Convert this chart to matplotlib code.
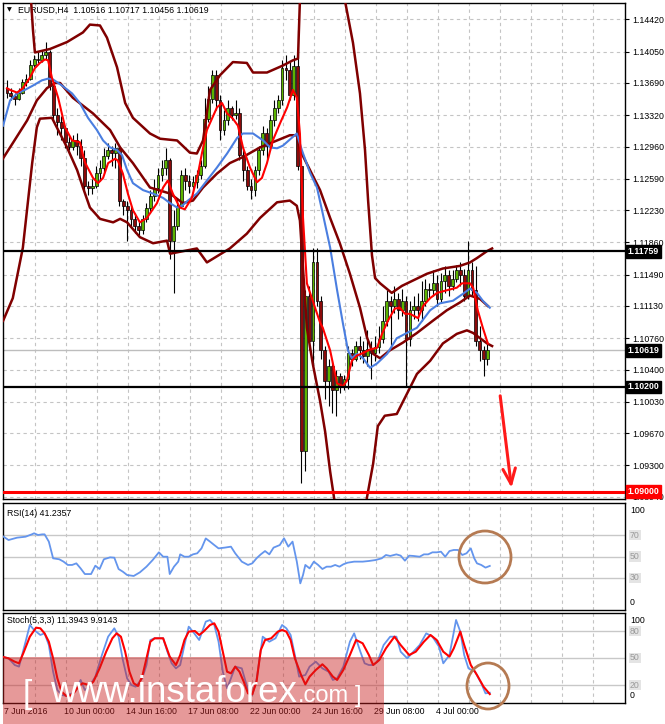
import numpy as np
import matplotlib
matplotlib.use("Agg")
import matplotlib.pyplot as plt
import matplotlib.transforms as mtransforms
from matplotlib.patches import Rectangle, Ellipse

plt.rcParams['font.family'] = ['Liberation Sans', 'DejaVu Sans']

# ---- EURUSD H4 candles (bar 0 = 7 Jun 16:00) ----
FIRST_OPEN = 1.1363
CLOSE = [
    1.1358, 1.1354, 1.1351, 1.1358, 1.1370, 1.1374, 1.1390, 1.1397, 1.1395, 1.1401,
    1.1404, 1.1365, 1.1332, 1.1324, 1.1317, 1.1301, 1.1296, 1.1303, 1.1297, 1.1283,
    1.1251, 1.1248, 1.1251, 1.1266, 1.1271, 1.1285, 1.1292, 1.1289, 1.1294, 1.1234,
    1.1228, 1.1223, 1.1213, 1.1205, 1.1200, 1.1213, 1.1225, 1.1239, 1.1248, 1.1263,
    1.1271, 1.1280, 1.1188, 1.1205, 1.1228, 1.1263, 1.1257, 1.1251, 1.1255, 1.1263,
    1.1274, 1.1328, 1.1351, 1.1378, 1.1349, 1.1315, 1.1326, 1.1340, 1.1332, 1.1335,
    1.1286, 1.1269, 1.1251, 1.1246, 1.1269, 1.1292, 1.1312, 1.1297, 1.1326, 1.1340,
    1.1349, 1.1386, 1.1384, 1.1355, 1.1389, 1.1274, 1.0947, 1.1125, 1.1073, 1.1163,
    1.1119, 1.1062, 1.1027, 1.1044, 1.1016, 1.1033, 1.1021, 1.1029, 1.1059, 1.1052,
    1.1067, 1.1062, 1.1056, 1.1064, 1.1059, 1.1066, 1.1075, 1.1096, 1.1119, 1.1113,
    1.1121, 1.1108, 1.1119, 1.1075, 1.1108, 1.1113, 1.1108, 1.1119, 1.1133, 1.1131,
    1.1139, 1.1121, 1.1142, 1.1148, 1.1136, 1.1144, 1.1154, 1.1148, 1.1125, 1.1154,
    1.1131, 1.1073, 1.1062, 1.10516, 1.10619,
]
HIGH = [
    1.1372, 1.1363, 1.1357, 1.1363, 1.1374, 1.1379, 1.1395, 1.1401, 1.1404, 1.1407,
    1.1416, 1.1407, 1.1369, 1.1340, 1.1331, 1.1320, 1.1308, 1.1309, 1.1312, 1.1305,
    1.1292, 1.1257, 1.1259, 1.1274, 1.1280, 1.1294, 1.1300, 1.1297, 1.1300, 1.1297,
    1.1236, 1.1234, 1.1228, 1.1220, 1.1211, 1.1218, 1.1231, 1.1246, 1.1259, 1.1271,
    1.1280, 1.1294, 1.1283, 1.1223, 1.1236, 1.1269, 1.1271, 1.1263, 1.1262, 1.1269,
    1.1280, 1.1352, 1.1366, 1.1384, 1.1384, 1.1355, 1.1338, 1.1349, 1.1343, 1.1349,
    1.1340, 1.1292, 1.1274, 1.1259, 1.1274, 1.1297, 1.1320, 1.1317, 1.1332, 1.1349,
    1.1355, 1.1395, 1.1401, 1.1393, 1.1401, 1.1430, 1.1280, 1.1131, 1.1136, 1.1179,
    1.1179, 1.1125, 1.1067, 1.1052, 1.1050, 1.1039, 1.1036, 1.1034, 1.1067, 1.1064,
    1.1073, 1.1079, 1.1073, 1.1085, 1.1073, 1.1079, 1.1090, 1.1113, 1.1131, 1.1125,
    1.1136, 1.1128, 1.1133, 1.1125, 1.1119, 1.1125, 1.1128, 1.1142, 1.1144, 1.1139,
    1.1154, 1.1148, 1.1151, 1.1159, 1.1154, 1.1154, 1.1160, 1.1163, 1.1156, 1.1188,
    1.1163, 1.1159, 1.1090, 1.1067, 1.10717,
]
LOW = [
    1.1352, 1.1349, 1.1344, 1.1349, 1.1356, 1.1366, 1.1372, 1.1387, 1.1392, 1.1393,
    1.1397, 1.1361, 1.1326, 1.1309, 1.1303, 1.1294, 1.1292, 1.1292, 1.1286, 1.1274,
    1.1246, 1.1240, 1.1242, 1.1248, 1.1257, 1.1266, 1.1282, 1.1274, 1.1271, 1.1228,
    1.1217, 1.1188, 1.1205, 1.1197, 1.1193, 1.1196, 1.1209, 1.1220, 1.1234, 1.1243,
    1.1257, 1.1263, 1.1167, 1.1128, 1.1200, 1.1225, 1.1246, 1.1243, 1.1246, 1.1248,
    1.1259, 1.1271, 1.1324, 1.1346, 1.1338, 1.1303, 1.1309, 1.1321, 1.1326, 1.1328,
    1.1280, 1.1257, 1.1246, 1.1236, 1.1239, 1.1263, 1.1286, 1.1282, 1.1292, 1.1320,
    1.1335, 1.1344, 1.1372, 1.1349, 1.1349, 1.1269, 1.0910, 1.0924, 1.1062, 1.1048,
    1.1113, 1.1052, 1.1006, 1.0998, 1.0990, 1.0987, 1.1013, 1.1016, 1.1018, 1.1044,
    1.1050, 1.1052, 1.1048, 1.1044, 1.1029, 1.1050, 1.1059, 1.1071, 1.1090, 1.1067,
    1.1105, 1.1098, 1.1102, 1.1021, 1.1067, 1.1098, 1.1096, 1.1096, 1.1113, 1.1121,
    1.1124, 1.1113, 1.1117, 1.1128, 1.1125, 1.1131, 1.1140, 1.1136, 1.1119, 1.1121,
    1.1125, 1.1067, 1.1050, 1.1033, 1.10456,
]

# ---- indicator lines, read as (bar, value) vertices ----
MA_FAST = [(0, 1.1363), (0.8, 1.1361), (2.6, 1.1358), (4.1, 1.1363), (5.9, 1.1375), (7.2, 1.1386),
           (8.5, 1.1392), (9.8, 1.1396), (10.6, 1.1395), (11.6, 1.1375), (13.2, 1.1352), (15.0, 1.1318),
           (16.8, 1.1303), (18.8, 1.1301), (20.1, 1.1278), (22.2, 1.1260), (23.5, 1.1254), (24.8, 1.1260),
           (26.1, 1.1277), (27.9, 1.1282), (28.6, 1.1280), (29.9, 1.1265), (31.2, 1.1242), (32.5, 1.1223),
           (34.3, 1.1209), (36.1, 1.1214), (38.7, 1.1231), (40.3, 1.1249), (41.5, 1.1257), (42.8, 1.1242),
           (44.6, 1.1226), (45.9, 1.1224), (47.7, 1.1237), (49.3, 1.1265), (50.3, 1.1288), (51.6, 1.1315),
           (54.2, 1.1341), (55.5, 1.1346), (56.8, 1.1334), (58.3, 1.1328), (59.6, 1.1320), (60.9, 1.1295),
           (62.7, 1.1272), (64.5, 1.1255), (65.8, 1.1260), (67.1, 1.1277), (68.6, 1.1303), (70.5, 1.1323),
           (72.3, 1.1341), (73.8, 1.1361), (74.8, 1.1352), (75.6, 1.1311), (76.4, 1.1214), (77.4, 1.1139),
           (78.9, 1.1119), (80.8, 1.1094), (81.5, 1.1088), (83.4, 1.1062), (85.2, 1.1024), (86.7, 1.1021),
           (87.7, 1.1027), (89.0, 1.1050), (90.3, 1.1056), (91.9, 1.1059), (93.7, 1.1063), (95.5, 1.1065),
           (96.8, 1.1081), (98.3, 1.1096), (100.1, 1.1110), (101.4, 1.1111), (102.7, 1.1104), (104.0, 1.1104),
           (106.1, 1.1099), (107.4, 1.1113), (109.2, 1.1122), (111.0, 1.1128), (113.5, 1.1131), (116.1, 1.1134),
           (117.4, 1.1139), (119.5, 1.1139), (120.3, 1.1134), (121.5, 1.1108), (122.8, 1.1088), (124.1, 1.1070)]

MA_SLOW = [(-1.0, 1.1320), (0.8, 1.1349), (2.6, 1.1357), (4.6, 1.1361), (6.7, 1.1366), (9.0, 1.1372),
           (10.6, 1.1374), (11.9, 1.1373), (14.2, 1.1366), (16.8, 1.1357), (18.8, 1.1346), (20.9, 1.1329),
           (23.2, 1.1315), (24.8, 1.1303), (26.6, 1.1295), (28.4, 1.1292), (29.7, 1.1286), (31.0, 1.1269),
           (32.5, 1.1254), (35.1, 1.1246), (37.7, 1.1242), (40.3, 1.1237), (42.1, 1.1231), (43.9, 1.1226),
           (45.2, 1.1228), (46.7, 1.1234), (49.0, 1.1242), (51.6, 1.1257), (54.2, 1.1272), (56.8, 1.1288),
           (59.4, 1.1306), (60.9, 1.1311), (63.5, 1.1311), (66.1, 1.1303), (67.9, 1.1295), (69.7, 1.1294),
           (71.2, 1.1297), (73.5, 1.1306), (74.8, 1.1311), (76.1, 1.1292), (78.2, 1.1266), (80.0, 1.1249),
           (81.5, 1.1219), (83.4, 1.1180), (85.2, 1.1131), (86.7, 1.1093), (88.0, 1.1062), (89.0, 1.1053),
           (90.3, 1.1058), (91.9, 1.1053), (93.7, 1.1042), (95.5, 1.1047), (98.1, 1.1058), (100.6, 1.1076),
           (103.2, 1.1082), (105.8, 1.1088), (109.2, 1.1108), (111.7, 1.1116), (115.1, 1.1119), (117.7, 1.1127),
           (119.5, 1.1133), (121.3, 1.1128), (122.8, 1.1119), (124.6, 1.1111)]

BB_UPPER = [(0, 1.1809), (3.4, 1.1602), (5.4, 1.1499), (6.2, 1.1464), (6.7, 1.1430), (7.2, 1.1404),
            (11.1, 1.1408), (15.5, 1.1416), (19.6, 1.1427), (21.4, 1.1436), (24.0, 1.1435), (25.8, 1.1421),
            (28.4, 1.1387), (30.5, 1.1346), (32.5, 1.1329), (36.9, 1.1311), (39.5, 1.1305), (43.9, 1.1303),
            (47.2, 1.1289), (49.0, 1.1288), (50.6, 1.1303), (52.4, 1.1361), (55.0, 1.1378), (58.3, 1.1393),
            (61.9, 1.1392), (63.5, 1.1381), (67.1, 1.1381), (71.2, 1.1389), (73.8, 1.1395), (75.1, 1.1397),
            (75.6, 1.1464), (76.4, 1.1579), (81.3, 1.1752), (85.9, 1.1533), (87.2, 1.1464), (89.3, 1.1415),
            (91.1, 1.1357), (92.4, 1.1292), (93.2, 1.1234), (94.2, 1.1171), (95.0, 1.1145), (96.3, 1.1139),
            (99.3, 1.1128), (101.9, 1.1136), (108.4, 1.1150), (112.5, 1.1156), (116.9, 1.1159), (119.5, 1.1163),
            (121.3, 1.1168), (123.9, 1.1176), (125.2, 1.1179)]

BB_MIDDLE = [(-1.8, 1.1277), (1.5, 1.1300), (5.2, 1.1326), (7.7, 1.1349), (10.3, 1.1363), (12.4, 1.1369),
             (13.7, 1.1369), (17.0, 1.1352), (22.2, 1.1334), (26.6, 1.1315), (29.2, 1.1295), (32.5, 1.1277),
             (36.9, 1.1249), (42.1, 1.1242), (45.4, 1.1231), (48.0, 1.1234), (50.6, 1.1249), (54.2, 1.1265),
             (57.5, 1.1277), (60.9, 1.1284), (65.3, 1.1295), (69.7, 1.1303), (73.0, 1.1309), (74.8, 1.1309),
             (75.6, 1.1292), (78.2, 1.1269), (80.8, 1.1246), (83.4, 1.1214), (85.9, 1.1185), (88.5, 1.1150),
             (91.1, 1.1111), (92.9, 1.1077), (94.5, 1.1058), (96.3, 1.1053), (98.8, 1.1062), (102.2, 1.1071),
             (105.8, 1.1082), (109.9, 1.1096), (113.5, 1.1108), (116.9, 1.1117), (119.5, 1.1125), (122.1, 1.1121),
             (124.1, 1.1113)]

BB_LOWER = [(-1.0, 1.1096), (1.5, 1.1122), (4.1, 1.1180), (6.5, 1.1277), (7.7, 1.1318), (8.5, 1.1328),
            (11.6, 1.1329), (13.2, 1.1315), (15.5, 1.1295), (18.1, 1.1269), (19.6, 1.1249), (21.4, 1.1226),
            (24.0, 1.1213), (27.4, 1.1209), (29.2, 1.1213), (31.0, 1.1209), (34.3, 1.1192), (37.7, 1.1185),
            (41.3, 1.1188), (42.1, 1.1173), (49.0, 1.1179), (51.6, 1.1163), (57.5, 1.1179), (61.9, 1.1196),
            (65.3, 1.1214), (69.7, 1.1232), (73.0, 1.1234), (74.8, 1.1228), (75.6, 1.1211), (77.4, 1.1088),
            (78.9, 1.1047), (80.8, 1.1004), (82.1, 1.0969), (83.4, 1.0923), (84.9, 1.0878), (88.5, 1.0751),
            (91.6, 1.0843), (92.9, 1.0893), (94.5, 1.0932), (95.7, 1.0975), (97.5, 1.0987), (100.6, 1.0989),
            (103.2, 1.1012), (105.8, 1.1035), (109.2, 1.1050), (112.5, 1.1070), (116.1, 1.1081), (118.7, 1.1085),
            (120.3, 1.1082), (123.9, 1.1070), (125.2, 1.1067)]

RSI = [(-1.3, 69.5), (0.4, 65.4), (2.6, 67.6), (4.8, 68.5), (6.4, 70.7), (7.0, 71.7), (8.0, 70.1), (9.1, 70.7),
       (9.7, 70.7), (10.8, 63.9), (11.9, 48.3), (13.5, 47.4), (14.6, 45.2), (15.7, 42.1), (16.8, 42.1),
       (17.9, 43.6), (19.0, 38.9), (20.1, 33.6), (21.7, 33.6), (22.8, 41.4), (23.9, 38.3), (25.0, 47.4),
       (26.6, 49.2), (27.7, 48.9), (28.8, 38.3), (29.9, 35.8), (31.0, 32.7), (32.7, 31.8), (34.3, 35.2),
       (36.0, 40.5), (37.6, 46.7), (39.2, 53.9), (40.3, 49.8), (41.4, 49.8), (42.0, 33.6), (43.1, 40.5),
       (44.2, 45.2), (44.7, 52.0), (45.8, 49.8), (46.9, 49.8), (48.0, 52.0), (49.1, 53.0), (50.2, 57.6),
       (51.3, 66.9), (52.4, 63.9), (53.5, 60.7), (54.6, 57.6), (56.2, 58.3), (57.8, 59.2), (58.9, 53.0),
       (60.6, 45.2), (62.2, 42.1), (63.3, 43.6), (64.4, 48.3), (65.5, 52.0), (66.6, 55.1), (67.7, 52.0),
       (68.8, 58.3), (70.4, 60.7), (71.5, 67.0), (72.6, 59.2), (73.7, 63.9), (74.8, 45.2), (75.7, 24.9),
       (76.4, 32.7), (77.0, 42.1), (78.1, 38.9), (79.2, 45.2), (80.3, 42.1), (81.4, 38.3), (82.5, 40.5),
       (83.6, 40.5), (84.7, 42.1), (85.8, 40.5), (86.8, 42.7), (87.9, 44.2), (89.6, 45.2), (91.8, 45.2),
       (93.4, 45.8), (95.1, 46.7), (96.7, 48.3), (97.8, 51.4), (98.9, 50.5), (100.5, 52.0), (101.6, 50.8),
       (102.7, 46.1), (103.8, 50.8), (104.9, 50.5), (106.5, 49.8), (107.6, 52.0), (108.7, 52.0), (109.8, 53.9),
       (110.9, 53.9), (112.0, 54.5), (113.1, 49.8), (114.2, 55.1), (115.3, 56.1), (116.4, 56.1), (117.5, 51.4),
       (118.6, 53.0), (119.7, 57.6), (120.6, 48.3), (121.3, 43.6), (122.4, 42.1), (123.5, 39.6), (124.6, 41.2)]

STOCH_MAIN = [(-1.3, 51.5), (0.4, 49.6), (2.0, 42.2), (3.1, 40.4), (4.8, 68.1), (5.9, 86.7), (7.0, 81.1),
              (8.6, 75.6), (9.7, 77.4), (10.8, 64.4), (11.9, 34.8), (13.0, 14.4), (14.1, 8.9), (15.2, 8.1),
              (16.8, 10.7), (17.9, 14.4), (19.0, 25.6), (20.1, 14.4), (21.2, 18.1), (22.8, 29.3), (24.5, 53.3),
              (26.1, 73.7), (27.7, 83.0), (28.8, 73.7), (29.9, 47.8), (31.0, 27.4), (32.1, 20.0), (33.2, 18.1),
              (34.9, 27.4), (36.0, 42.2), (37.0, 70.0), (38.1, 71.9), (40.3, 71.9), (41.4, 57.0), (42.5, 44.1),
              (43.6, 38.5), (44.7, 42.2), (45.8, 64.4), (46.9, 84.8), (48.0, 79.3), (49.6, 70.0), (51.3, 90.4),
              (52.4, 92.2), (53.5, 86.7), (54.6, 68.1), (55.7, 34.8), (56.8, 16.3), (57.8, 27.4), (58.9, 40.4),
              (60.6, 38.5), (62.2, 14.4), (63.3, 8.9), (64.4, 25.6), (66.0, 73.7), (67.7, 68.1), (69.3, 71.9),
              (71.0, 86.7), (72.1, 83.0), (73.2, 75.6), (74.3, 53.3), (75.4, 29.3), (77.0, 31.1), (78.1, 40.4),
              (79.7, 45.9), (81.4, 38.5), (83.0, 34.8), (84.1, 25.6), (85.2, 27.4), (86.8, 40.4), (88.5, 68.1),
              (89.6, 77.4), (91.2, 57.0), (92.3, 44.1), (93.4, 42.2), (94.5, 42.2), (95.6, 45.9), (97.2, 64.4),
              (98.9, 73.7), (100.5, 73.7), (101.6, 57.0), (103.3, 49.6), (104.9, 57.0), (106.5, 64.4),
              (108.2, 77.4), (109.8, 73.7), (111.5, 62.6), (112.6, 44.1), (114.2, 53.3), (115.9, 92.2),
              (117.0, 79.3), (118.0, 53.3), (119.1, 38.5), (120.8, 34.8), (122.4, 21.9), (123.5, 10.7),
              (124.6, 11.4)]

STOCH_SIGNAL = [(-1.3, 51.5), (0.4, 49.6), (2.0, 45.9), (3.1, 44.1), (4.2, 55.2), (5.9, 73.7), (7.5, 83.7),
                (8.6, 83.0), (9.7, 77.4), (10.8, 68.1), (11.9, 49.6), (13.0, 27.4), (14.1, 12.6), (15.2, 8.1),
                (16.3, 8.1), (17.4, 11.9), (18.4, 18.1), (19.5, 21.9), (21.2, 20.0), (22.3, 23.7), (23.9, 38.5),
                (25.6, 57.0), (27.2, 71.9), (28.3, 77.4), (29.4, 73.7), (30.5, 57.0), (31.6, 34.8), (32.7, 21.9),
                (33.8, 18.9), (34.9, 29.3), (36.0, 49.6), (37.0, 68.1), (38.1, 71.9), (40.3, 71.9), (42.0, 51.5),
                (43.6, 42.2), (44.7, 53.3), (45.8, 70.0), (46.9, 79.3), (48.5, 80.0), (49.6, 75.6), (50.7, 79.3),
                (52.4, 86.7), (53.5, 88.5), (54.6, 79.3), (55.7, 57.0), (56.8, 34.8), (57.8, 33.0), (58.9, 40.4),
                (60.0, 34.8), (61.1, 23.7), (62.2, 10.7), (63.3, 9.6), (64.4, 23.7), (65.5, 58.9), (66.6, 70.0),
                (68.2, 71.9), (69.9, 79.3), (71.0, 81.1), (72.1, 79.3), (73.2, 70.0), (74.3, 49.6), (75.9, 31.1),
                (77.0, 20.7), (78.1, 29.3), (79.7, 36.7), (81.4, 43.0), (82.5, 38.5), (84.1, 29.3), (85.2, 25.6),
                (86.8, 36.7), (88.5, 53.3), (90.1, 70.0), (91.8, 66.3), (93.4, 53.3), (94.5, 42.2), (96.1, 47.8),
                (97.8, 60.7), (100.0, 73.7), (101.6, 64.4), (103.8, 53.3), (105.5, 57.0), (107.6, 68.1),
                (109.3, 75.6), (110.9, 70.0), (112.6, 57.0), (114.2, 51.5), (115.3, 60.7), (117.0, 79.3),
                (118.0, 64.4), (119.7, 42.2), (121.3, 31.1), (123.0, 18.1), (124.6, 9.9)]

PRICE_TICKS = [1.14420, 1.14050, 1.13690, 1.13320, 1.12960, 1.12590, 1.12230, 1.11860,
               1.11490, 1.11130, 1.10760, 1.10400, 1.10030, 1.09670, 1.09300, 1.08940]
RESISTANCE = 1.11759
SUPPORT = 1.10200
TARGET = 1.09000
BID = 1.10619
DATE_LABELS = ["7 Jun 2016", "10 Jun 00:00", "14 Jun 16:00", "17 Jun 08:00",
               "22 Jun 00:00", "24 Jun 16:00", "29 Jun 08:00", "4 Jul 00:00"]
DATE_BARS = [-1.3, 14, 30, 46, 62, 78, 94, 110]

W, H = 665, 724
XLIM = (-1.03, 159.5)
GRID_X = np.arange(7.2, 156, 8)
GRID_C = "#c4c4c4"
FONT = 6.3

fig = plt.figure(figsize=(W / 100, H / 100), dpi=100)
fig.patch.set_facecolor("white")


def panel(x0, y0, x1, y1):
    a = fig.add_axes([x0 / W, 1 - y1 / H, (x1 - x0) / W, (y1 - y0) / H])
    a.set_xlim(*XLIM)
    a.set_xticks([])
    for s in a.spines.values():
        s.set_color("black")
        s.set_linewidth(1.0)
    for gx in GRID_X:
        a.axvline(gx, color=GRID_C, lw=0.8, ls=(0, (3, 3)), zorder=0)
    return a


def unzip(pts):
    xs, ys = zip(*pts)
    return np.array(xs), np.array(ys)


# ---- main price panel ----
ax = panel(3, 3, 625, 499)
ax.set_ylim(1.08914, 1.14608)
for t in PRICE_TICKS:
    ax.axhline(t, color=GRID_C, lw=0.8, ls=(0, (3, 3)), zorder=0)
ax.yaxis.tick_right()
ax.set_yticks(PRICE_TICKS)
ax.set_yticklabels([f"{t:.5f}" for t in PRICE_TICKS])
ax.tick_params(axis="y", labelsize=FONT, length=3, pad=2, width=0.8)

ax.axhline(BID, color="#bdbdbd", lw=1.0, zorder=1)

bars = np.arange(len(CLOSE))
close = np.array(CLOSE)
opens = np.array([FIRST_OPEN] + CLOSE[:-1])
up = close >= opens
body_lo = np.minimum(opens, close)
body_h = np.maximum(np.abs(close - opens), 0.00004)
ax.vlines(bars, LOW, HIGH, color="black", lw=0.8, zorder=2)
ax.bar(bars[up], body_h[up], bottom=body_lo[up], width=0.72, color="#5cb400",
       edgecolor="black", linewidth=0.5, zorder=3)
ax.bar(bars[~up], body_h[~up], bottom=body_lo[~up], width=0.72, color="#8b0a0a",
       edgecolor="black", linewidth=0.5, zorder=3)

for pts in (BB_UPPER, BB_MIDDLE, BB_LOWER):
    x, y = unzip(pts)
    ax.plot(x, y, color="#800000", lw=1.8, zorder=4)
x, y = unzip(MA_SLOW)
ax.plot(x, y, color="#4a7ee0", lw=1.5, zorder=5)
x, y = unzip(MA_FAST)
ax.plot(x, y, color="#ff0000", lw=1.5, zorder=6)

ax.axhline(RESISTANCE, color="black", lw=1.6, zorder=7)
ax.axhline(SUPPORT, color="black", lw=1.6, zorder=7)
ax.axhline(TARGET, color="#ff0000", lw=2.2, zorder=7)

ax.annotate("", xy=(130.3, TARGET + 0.0001), xytext=(127.2, 1.1013),
            arrowprops=dict(arrowstyle="->,head_length=1.1,head_width=0.45",
                            color="#ff1a1a", lw=2.2), zorder=8)

blend = mtransforms.blended_transform_factory(ax.transAxes, ax.transData)
for price, fc in ((RESISTANCE, "black"), (BID, "black"), (SUPPORT, "black"), (TARGET, "#ff0000")):
    ax.text(1.004, price, f"{price:.5f}", transform=blend, color="white", fontsize=FONT,
            fontweight="bold", va="center", ha="left", clip_on=False, zorder=9,
            bbox=dict(boxstyle="square,pad=0.22", fc=fc, ec=fc))

ax.text(0.006, 0.986, "\u25BC", transform=ax.transAxes, fontsize=4.5, va="center",
        ha="left", family=["DejaVu Sans"])
ax.text(0.024, 0.986, "EURUSD,H4  1.10516 1.10717 1.10456 1.10619", transform=ax.transAxes,
        fontsize=FONT, va="center", ha="left")

# ---- RSI panel ----
ax_rsi = panel(3, 503, 625, 610)
ax_rsi.set_ylim(0, 100)
ax_rsi.set_yticks([])
for lv in (70, 50, 30):
    ax_rsi.axhline(lv, color="#c8c8c8", lw=1.0, zorder=1)
x, y = unzip(RSI)
ax_rsi.plot(x, y, color="#6495ed", lw=1.3, zorder=3)
ax_rsi.text(0.007, 0.9, "RSI(14) 41.2357", transform=ax_rsi.transAxes, fontsize=FONT,
            va="center", ha="left")
b_rsi = mtransforms.blended_transform_factory(ax_rsi.transAxes, ax_rsi.transData)
ax_rsi.text(1.008, 97, "100", transform=b_rsi, fontsize=FONT, va="top", clip_on=False)
ax_rsi.text(1.008, 3, "0", transform=b_rsi, fontsize=FONT, va="bottom", clip_on=False)
for lv in (70, 50, 30):
    ax_rsi.text(1.008, lv, str(lv), transform=b_rsi, fontsize=FONT, va="center", color="#9a9a9a",
                clip_on=False, bbox=dict(boxstyle="square,pad=0.1", fc="#e4e4e4", ec="none"))

# ---- Stochastic panel ----
ax_sto = panel(3, 613, 625, 703)
ax_sto.set_ylim(0, 100)
ax_sto.set_yticks([])
for lv in (80, 50, 20):
    ax_sto.axhline(lv, color="#c8c8c8", lw=1.0, zorder=1)
x, y = unzip(STOCH_MAIN)
ax_sto.plot(x, y, color="#6495ed", lw=1.3, zorder=3)
x, y = unzip(STOCH_SIGNAL)
ax_sto.plot(x, y, color="#ff0000", lw=1.5, zorder=4)
ax_sto.text(0.007, 0.92, "Stoch(5,3,3) 11.3943 9.9143", transform=ax_sto.transAxes,
            fontsize=FONT, va="center", ha="left")
b_sto = mtransforms.blended_transform_factory(ax_sto.transAxes, ax_sto.transData)
ax_sto.text(1.008, 97, "100", transform=b_sto, fontsize=FONT, va="top", clip_on=False)
ax_sto.text(1.008, 3, "0", transform=b_sto, fontsize=FONT, va="bottom", clip_on=False)
for lv in (80, 50, 20):
    ax_sto.text(1.008, lv, str(lv), transform=b_sto, fontsize=FONT, va="center", color="#9a9a9a",
                clip_on=False, bbox=dict(boxstyle="square,pad=0.1", fc="#e4e4e4", ec="none"))

b_date = mtransforms.blended_transform_factory(ax_sto.transData, ax_sto.transAxes)
for bx, lab in zip(DATE_BARS, DATE_LABELS):
    ax_sto.text(bx + 0.6, -0.1, lab, transform=b_date, fontsize=FONT, va="center",
                ha="left", clip_on=False)

# ---- overlay: highlight circles and watermark ----
ov = fig.add_axes([0, 0, 1, 1])
ov.set_xlim(0, W)
ov.set_ylim(H, 0)
ov.axis("off")
ov.patch.set_alpha(0)
ov.set_zorder(10)
ov.add_patch(Ellipse((485, 557), 52, 52, fill=False, ec="#b57a52", lw=2.0))
ov.add_patch(Ellipse((488, 686), 42, 46, fill=False, ec="#b57a52", lw=2.0))
ov.add_patch(Rectangle((3, 657), 381, 67, fc="#c81e1e", alpha=0.45, ec="none"))
ov.text(23, 703, "[", fontsize=24, color="white", va="baseline", ha="left")
ov.text(50, 702, "www.instaforex", fontsize=26.5, color="white", va="baseline", ha="left")
ov.text(298, 702, ".com", fontsize=17, color="white", va="baseline", ha="left")
ov.text(355, 702, "]", fontsize=17, color="white", va="baseline", ha="left")

fig.savefig("out.png", dpi=100)
